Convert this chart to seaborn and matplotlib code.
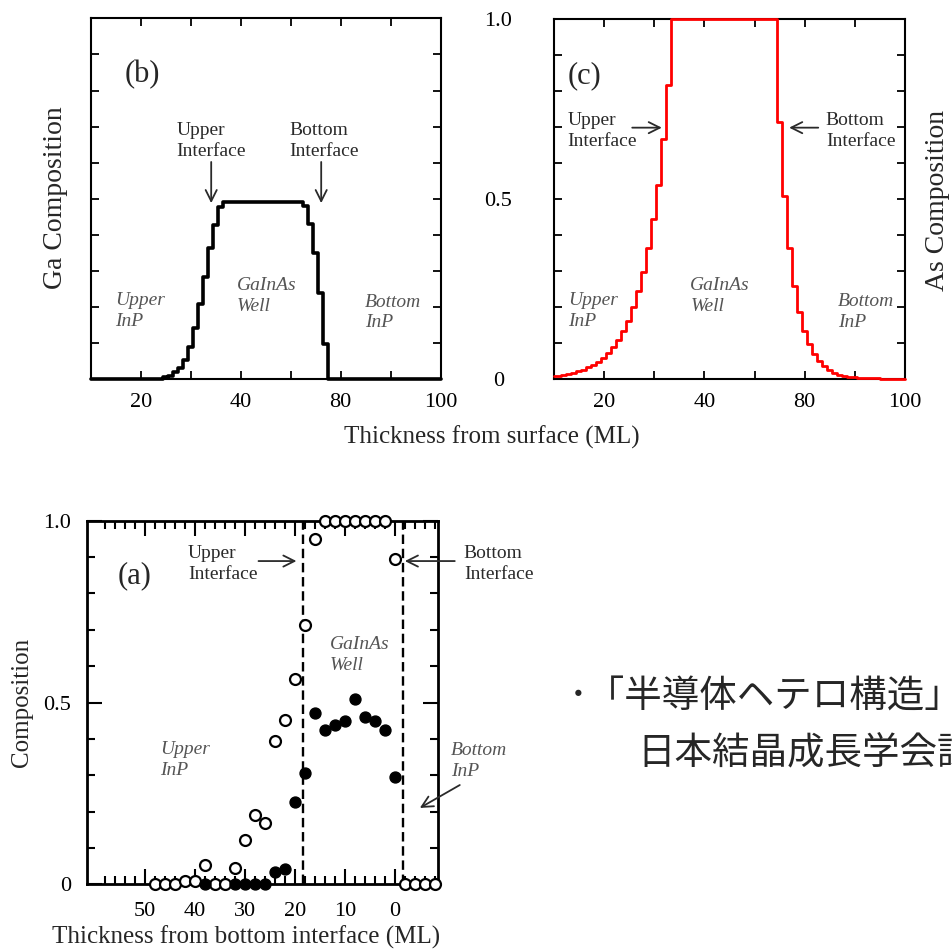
"""
Ga / As composition profiles across a GaInAs/InP quantum well
"""

# Libraries
import seaborn as sns
import matplotlib.pyplot as plt
from matplotlib.ticker import FixedLocator, FixedFormatter, NullFormatter

# Seaborn
sns.set_theme(style="white")
plt.rcParams['font.family'] = ['Liberation Serif', 'DejaVu Serif']

# ---------------------------------
# Data
# ---------------------------------
# (b) Ga composition, step edges (ML) and level of each step
ga_x = [10, 22.4, 23.4, 24.4, 25.4, 26.4, 27.4, 28.4, 29.4, 30.4, 31.4,
        32.4, 33.4, 34.4, 35.4, 36.4, 52.5, 53.5, 54.5, 55.5, 56.5,
        57.5, 80]
ga_y = [0, 0.001, 0.002, 0.005, 0.010, 0.019, 0.032, 0.053, 0.090,
        0.141, 0.209, 0.282, 0.363, 0.427, 0.476, 0.492, 0.480, 0.430,
        0.349, 0.238, 0.098, 0, 0]

# (c) As composition, step edges (ML) and level of each step
as_x = [10, 10.3, 11.3, 12.3, 13.3, 14.3, 15.3, 16.3, 17.3, 18.3, 19.3,
        20.3, 21.3, 22.3, 23.3, 24.3, 25.3, 26.3, 27.3, 28.3, 29.3,
        30.3, 31.3, 32.3, 33.3, 54.5, 55.5, 56.5, 57.5, 58.5, 59.5,
        60.5, 61.5, 62.5, 63.5, 64.5, 65.5, 66.5, 67.5, 68.5, 69.5,
        70.5, 72, 75, 80]
as_y = [0.008, 0.010, 0.012, 0.015, 0.018, 0.022, 0.027, 0.033, 0.040,
        0.049, 0.060, 0.073, 0.089, 0.109, 0.133, 0.163, 0.200, 0.245,
        0.299, 0.364, 0.445, 0.540, 0.668, 0.818, 1.0, 0.714, 0.509,
        0.364, 0.258, 0.186, 0.135, 0.097, 0.069, 0.050, 0.036, 0.026,
        0.018, 0.013, 0.009, 0.007, 0.005, 0.004, 0.003, 0.002, 0.002]

# (a) measured composition vs thickness from bottom interface (ML)
open_x = [48, 46, 44, 42, 40, 38, 36, 34, 32, 30, 28, 26, 24, 22, 20,
          18, 16, 14, 12, 10, 8, 6, 4, 2, 0, -2, -4, -6, -8]
open_y = [0, 0, 0, 0.009, 0.009, 0.053, 0, 0, 0.044, 0.122, 0.190,
          0.168, 0.395, 0.452, 0.565, 0.713, 0.950, 1.0, 1.0, 1.0, 1.0,
          1.0, 1.0, 1.0, 0.894, 0, 0, 0, 0]
filled_x = [38, 32, 30, 28, 26, 24, 22, 20, 18, 16, 14, 12, 10, 8, 6,
            4, 2, 0]
filled_y = [0, 0, 0, 0, 0, 0.035, 0.041, 0.225, 0.305, 0.472, 0.424,
            0.438, 0.449, 0.510, 0.461, 0.449, 0.424, 0.294]

# Interface positions in (a)
interfaces = [18.3, -1.6]

# Tick labels (as printed in the original figure)
top_xticks = [20, 40, 60, 80]
top_xlabels = ['20', '40', '80', '100']
bot_xticks = [50, 40, 30, 20, 10, 0]
comp_ticks = [0, 0.5, 1.0]
comp_labels = ['0', '0.5', '1.0']
tenth_ticks = [0.1, 0.2, 0.3, 0.4, 0.6, 0.7, 0.8, 0.9]

TEXT = '#2a2a2a'
REGION = '#555555'
JP = ['Noto Sans CJK JP', 'DejaVu Sans']

# ---------------------------------
# Helpers
# ---------------------------------
def frame(ax, lw):
    for s in ax.spines.values():
        s.set_visible(True)
        s.set_color('black')
        s.set_linewidth(lw)


def arrow(ax, tail, head):
    ax.annotate('', xy=head, xytext=tail, annotation_clip=False,
                arrowprops=dict(arrowstyle='->', color=TEXT, lw=1.3,
                                mutation_scale=20, shrinkA=0, shrinkB=0))


def label(ax, x, y, s, italic=False):
    ax.text(x, y, s, ha='left', va='center', fontsize=14,
            color=REGION if italic else TEXT,
            style='italic' if italic else 'normal', linespacing=1.3)


# ---------------------------------
# Plot
# ---------------------------------
W, H = 952, 951
f = plt.figure(figsize=(W / 100, H / 100), dpi=100)

ax_b = f.add_axes([90.7 / W, 1 - 379.3 / H, 350 / W, 361 / H])
ax_c = f.add_axes([554 / W, 1 - 379.3 / H, 351 / W, 360 / H])
ax_a = f.add_axes([86.7 / W, 1 - 884.3 / H, 351.6 / W, 363.6 / H])

# (b) Ga composition
sns.lineplot(x=ga_x, y=ga_y, drawstyle='steps-post', color='black',
             linewidth=2.6, estimator=None, sort=False, ax=ax_b)
# (c) As composition
sns.lineplot(x=as_x, y=as_y, drawstyle='steps-post', color='#ff0000',
             linewidth=2.0, estimator=None, sort=False, ax=ax_c)
for ax in (ax_b, ax_c):
    for ln in ax.lines:
        ln.set_clip_on(False)
        ln.set_zorder(4)
    ax.set_xlim(10, 80)
    ax.set_ylim(0, 1)
    frame(ax, 1.5)
    ax.xaxis.set_major_locator(FixedLocator(top_xticks))
    ax.xaxis.set_major_formatter(FixedFormatter(top_xlabels))
    ax.xaxis.set_minor_locator(FixedLocator([30, 50, 70]))
    ax.yaxis.set_minor_locator(FixedLocator(tenth_ticks))
    ax.tick_params(which='both', direction='in', top=True, right=True,
                   bottom=True, left=True, length=5.5, width=1.3,
                   color='black', labelsize=16, labelcolor='black')
    ax.tick_params(axis='x', pad=10)
    ax.set_xlabel('')
    ax.set_ylabel('')

ax_b.yaxis.set_major_locator(FixedLocator(comp_ticks))
ax_b.yaxis.set_major_formatter(NullFormatter())
ax_c.yaxis.set_major_locator(FixedLocator(comp_ticks))
ax_c.yaxis.set_major_formatter(FixedFormatter(comp_labels))
ax_c.tick_params(axis='y', pad=40)
for t in ax_c.get_yticklabels():
    t.set_horizontalalignment('center')

# (a) measured profile
for x in interfaces:
    ax_a.axvline(x, color='black', linewidth=1.7, linestyle=(0, (4, 2)),
                 zorder=2)
sns.scatterplot(x=open_x, y=open_y, marker='o', s=62, color='white',
                edgecolor='black', linewidth=1.6, clip_on=False, zorder=5,
                ax=ax_a)
sns.scatterplot(x=filled_x, y=filled_y, marker='o', s=62, color='black',
                edgecolor='black', linewidth=1.0, clip_on=False, zorder=6,
                ax=ax_a)
ax_a.set_xlim(61.7, -8.7)
ax_a.set_ylim(0, 1)
frame(ax_a, 2.0)
ax_a.xaxis.set_major_locator(FixedLocator(bot_xticks))
ax_a.xaxis.set_minor_locator(FixedLocator(
    [x for x in range(-8, 61, 2) if x % 10 != 0]))
ax_a.yaxis.set_major_locator(FixedLocator(comp_ticks))
ax_a.yaxis.set_major_formatter(FixedFormatter(comp_labels))
ax_a.yaxis.set_minor_locator(FixedLocator(tenth_ticks))
ax_a.tick_params(which='both', direction='in', top=True, right=True,
                 bottom=True, left=True, width=1.5, color='black',
                 labelsize=16, labelcolor='black')
ax_a.tick_params(which='major', length=11)
ax_a.tick_params(which='minor', length=6)
ax_a.tick_params(axis='x', pad=13)
ax_a.tick_params(axis='y', pad=11)
ax_a.set_xlabel('')
ax_a.set_ylabel('')

# Annotations (b)
ax_b.text(16.7, 0.843, '(b)', ha='left', va='center', fontsize=22)
label(ax_b, 27.2, 0.659, 'Upper\nInterface')
label(ax_b, 49.7, 0.659, 'Bottom\nInterface')
arrow(ax_b, (34.1, 0.602), (34.1, 0.488))
arrow(ax_b, (56.1, 0.602), (56.1, 0.488))
label(ax_b, 39.3, 0.231, 'GaInAs\nWell', italic=True)
label(ax_b, 14.9, 0.189, 'Upper\nInP', italic=True)
label(ax_b, 64.9, 0.185, 'Bottom\nInP', italic=True)

# Annotations (c)
ax_c.text(12.8, 0.843, '(c)', ha='left', va='center', fontsize=22)
label(ax_c, 12.65, 0.689, 'Upper\nInterface')
label(ax_c, 64.2, 0.689, 'Bottom\nInterface')
arrow(ax_c, (25.6, 0.699), (31.5, 0.699))
arrow(ax_c, (62.7, 0.699), (56.9, 0.699))
label(ax_c, 37.2, 0.231, 'GaInAs\nWell', italic=True)
label(ax_c, 12.85, 0.190, 'Upper\nInP', italic=True)
label(ax_c, 66.6, 0.186, 'Bottom\nInP', italic=True)

# Annotations (a)
ax_a.text(55.6, 0.848, '(a)', ha='left', va='center', fontsize=22)
label(ax_a, 41.4, 0.880, 'Upper\nInterface')
label(ax_a, -13.8, 0.880, 'Bottom\nInterface')
arrow(ax_a, (27.3, 0.889), (19.7, 0.889))
arrow(ax_a, (-12.0, 0.889), (-2.0, 0.889))
label(ax_a, 13.0, 0.631, 'GaInAs\nWell', italic=True)
label(ax_a, 47.0, 0.342, 'Upper\nInP', italic=True)
label(ax_a, -11.3, 0.339, 'Bottom\nInP', italic=True)
arrow(ax_a, (-13.0, 0.273), (-5.0, 0.210))

# Axis titles
f.text(56 / W, 1 - 198 / H, 'Ga Composition', rotation=90, ha='center',
       va='center', fontsize=20)
f.text(938 / W, 1 - 200 / H, 'As Composition', rotation=90, ha='center',
       va='center', fontsize=20)
f.text(492 / W, 1 - 437 / H, 'Thickness from surface (ML)', ha='center',
       va='center', fontsize=18)
f.text(22 / W, 1 - 702 / H, 'Composition', rotation=90, ha='center',
       va='center', fontsize=18)
f.text(246 / W, 1 - 937 / H, 'Thickness from bottom interface (ML)',
       ha='center', va='center', fontsize=18)

# Reference note (runs past the right edge, as in the slide)
f.text(569 / W, 1 - 697 / H, '･「半導体ヘテロ構造」', ha='left',
       va='center', fontsize=27, family=JP)
f.text(637 / W, 1 - 754 / H, '日本結晶成長学会誌', ha='left', va='center',
       fontsize=27, family=JP)

# Save
f.savefig('out.png', dpi=100)
